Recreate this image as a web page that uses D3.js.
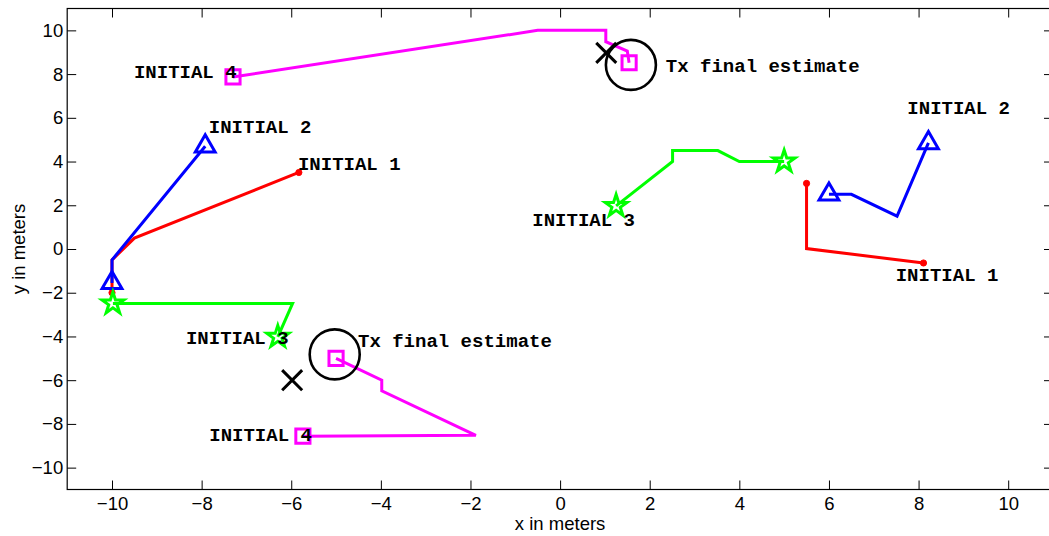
<!DOCTYPE html>
<html>
<head>
<meta charset="utf-8">
<script src="https://cdn.jsdelivr.net/npm/d3@7"></script>
<style>
  body { margin: 0; background: #fff; }
  .tick text { font-family: "Liberation Sans", Arial, sans-serif; font-size: 18.5px; fill: #000; }
  .tick line { stroke: #000; }
  .lbl { font-family: "Liberation Mono", "Courier New", monospace; font-weight: bold; font-size: 19px; fill: #000; }
  .axlbl { font-family: "Liberation Sans", Arial, sans-serif; font-size: 18.5px; fill: #000; }
</style>
</head>
<body>
<div id="chart"></div>
<script>
// tick values
const xTicks = [-10, -8, -6, -4, -2, 0, 2, 4, 6, 8, 10];
const yTicks = [-10, -8, -6, -4, -2, 0, 2, 4, 6, 8, 10];

// run A (lower-left estimate)
const runA1 = [[-5.83, 3.5], [-9.5, 0.5], [-10, -0.5], [-10, -2.0]];
const runA2 = [[-7.92, 4.7], [-10, -0.5], [-10, -1.55]];
const runA3 = [[-6.3, -4.02], [-5.97, -2.49], [-9.98, -2.49]];
const runA4 = [[-5.74, -8.56], [-1.88, -8.52], [-3.98, -6.49], [-3.98, -6.0], [-5.0, -5.0]];

// run B (upper-right estimate)
const runB1 = [[8.11, -0.64], [5.5, 0.02], [5.5, 3.0]];
const runB2 = [[8.22, 4.85], [7.52, 1.5], [6.5, 2.5], [6.0, 2.5]];
const runB3 = [[1.25, 1.97], [2.51, 4.0], [2.51, 4.5], [3.52, 4.5], [4.0, 4.0], [5.0, 4.0]];
const runB4 = [[-7.3, 7.87], [-0.5, 10.0], [1.02, 10.0], [1.02, 9.48], [1.5, 9.05], [1.54, 8.52]];

// true transmitter positions and final estimates
const trueTx = [[-5.98, -6.0], [1.03, 8.97]];
const finalTx = [[-5.03, -4.82], [1.58, 8.42]];

// text labels [x, y, text]
const labelPos = [
  [-9.51, 8.14, 'INITIAL 4'],
  [-7.84, 5.63, 'INITIAL 2'],
  [-5.85, 3.94, 'INITIAL 1'],
  [-8.35, -4.06, 'INITIAL 3'],
  [-7.83, -8.48, 'INITIAL 4'],
  [-4.51, -4.2, 'Tx final estimate'],
  [7.75, 6.47, 'INITIAL 2'],
  [7.49, -1.16, 'INITIAL 1'],
  [-0.62, 1.37, 'INITIAL 3'],
  [2.36, 8.39, 'Tx final estimate']
];

const W = 1049, H = 536;
const margin = { left: 67.2, top: 8.5, right: 1053, bottom: 489.5 };

const svg = d3.select('#chart').append('svg')
  .attr('width', W)
  .attr('height', H);

const x = d3.scaleLinear().domain([-11, 11]).range([margin.left, margin.right]);
const y = d3.scaleLinear().domain([-11, 11]).range([margin.bottom, margin.top]);

// axes, ticks pointing inward
svg.append('g')
  .attr('transform', 'translate(0,' + margin.bottom + ')')
  .call(d3.axisBottom(x).tickValues(xTicks).tickSizeInner(-9).tickSizeOuter(0).tickPadding(7))
  .call(g => g.select('.domain').remove());
svg.append('g')
  .attr('transform', 'translate(0,' + margin.top + ')')
  .call(d3.axisTop(x).tickValues(xTicks).tickSizeInner(-9).tickSizeOuter(0).tickFormat(''))
  .call(g => g.select('.domain').remove());
svg.append('g')
  .attr('transform', 'translate(' + margin.left + ',0)')
  .call(d3.axisLeft(y).tickValues(yTicks).tickSizeInner(-9).tickSizeOuter(0).tickPadding(4))
  .call(g => g.select('.domain').remove());
svg.append('g')
  .attr('transform', 'translate(' + margin.right + ',0)')
  .call(d3.axisRight(y).tickValues(yTicks).tickSizeInner(-9).tickSizeOuter(0).tickFormat(''))
  .call(g => g.select('.domain').remove());

svg.append('rect')
  .attr('x', margin.left)
  .attr('y', margin.top)
  .attr('width', margin.right - margin.left)
  .attr('height', margin.bottom - margin.top)
  .attr('fill', 'none')
  .attr('stroke', '#000')
  .attr('stroke-width', 1.2);

svg.append('text')
  .attr('class', 'axlbl')
  .attr('x', x(0))
  .attr('y', 530)
  .attr('text-anchor', 'middle')
  .text('x in meters');

svg.append('text')
  .attr('class', 'axlbl')
  .attr('transform', 'translate(19,' + y(0) + ') rotate(-90)')
  .attr('dy', '0.35em')
  .attr('text-anchor', 'middle')
  .text('y in meters');

const line = d3.line().x(d => x(d[0])).y(d => y(d[1]));

const star = d3.symbol().type(d3.symbolStar).size(148);
const tri = d3.symbol().type(d3.symbolTriangle).size(170);
const sq = d3.symbol().type(d3.symbolSquare).size(200);
const dot = d3.symbol().type(d3.symbolCircle).size(30);

const series = [
  { pts: runA1, color: '#ff0000', mark: dot, fill: true },
  { pts: runA2, color: '#0000ff', mark: tri, fill: false },
  { pts: runA3, color: '#00ff00', mark: star, fill: false },
  { pts: runA4, color: '#ff00ff', mark: sq, fill: false },
  { pts: runB1, color: '#ff0000', mark: dot, fill: true },
  { pts: runB2, color: '#0000ff', mark: tri, fill: false },
  { pts: runB3, color: '#00ff00', mark: star, fill: false },
  { pts: runB4, color: '#ff00ff', mark: sq, fill: false }
];

series.forEach(function (s) {
  const g = svg.append('g');
  g.append('path')
    .attr('d', line(s.pts))
    .attr('fill', 'none')
    .attr('stroke', s.color)
    .attr('stroke-width', 3)
    .attr('stroke-linejoin', 'miter');
  const ends = [s.pts[0], s.pts[s.pts.length - 1]];
  g.selectAll('path.m')
    .data(ends)
    .enter()
    .append('path')
    .attr('class', 'm')
    .attr('transform', d => 'translate(' + x(d[0]) + ',' + y(d[1]) + ')')
    .attr('d', s.mark())
    .attr('fill', s.fill ? s.color : 'none')
    .attr('stroke', s.color)
    .attr('stroke-width', s.fill ? 1 : 3);
});

// true positions (x) and final estimates (circle)
svg.selectAll('path.tx')
  .data(trueTx)
  .enter()
  .append('path')
  .attr('class', 'tx')
  .attr('transform', d => 'translate(' + x(d[0]) + ',' + y(d[1]) + ')')
  .attr('d', d3.symbol().type(d3.symbolTimes).size(263)())
  .attr('fill', 'none')
  .attr('stroke', '#000')
  .attr('stroke-width', 3);

svg.selectAll('path.est')
  .data(finalTx)
  .enter()
  .append('path')
  .attr('class', 'est')
  .attr('transform', d => 'translate(' + x(d[0]) + ',' + y(d[1]) + ')')
  .attr('d', d3.symbol().type(d3.symbolCircle).size(Math.PI * 25 * 25)())
  .attr('fill', 'none')
  .attr('stroke', '#000')
  .attr('stroke-width', 2.6);

svg.selectAll('text.lbl')
  .data(labelPos)
  .enter()
  .append('text')
  .attr('class', 'lbl')
  .attr('x', d => x(d[0]))
  .attr('y', d => y(d[1]))
  .attr('dy', '0.35em')
  .text(d => d[2]);
</script>
</body>
</html>
